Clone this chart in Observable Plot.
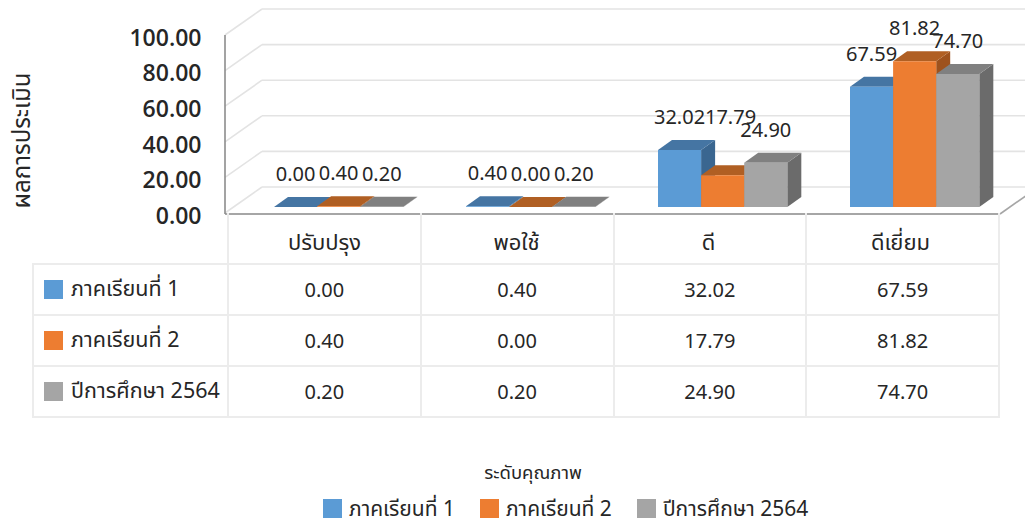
<!DOCTYPE html>
<html><head><meta charset="utf-8">
<script src="https://cdn.jsdelivr.net/npm/d3@7"></script>
<script src="https://cdn.jsdelivr.net/npm/@observablehq/plot@0.6"></script>
<style>
body{margin:0;background:#fff;font-family:"Noto Sans","Noto Sans Thai",Tahoma,sans-serif;color:#262626}
#wrap{position:relative;width:1025px;height:521px;overflow:hidden;background:#fff}
#wrap svg{position:absolute;left:0;top:0;overflow:visible}
.dt{position:absolute;left:32px;top:213px;border-collapse:collapse;table-layout:fixed;font-size:20px;color:#262626}
.dt td{border:2px solid #ececec;text-align:center;padding:0;white-space:nowrap}
.dt tr.head td{height:50px;border-top:none}
.dt tr.head td:first-child{border:none}
.dt tr.row td{height:49px}
.dt td.lab{text-align:left;padding-left:10px;font-size:21.5px}
.sw{display:inline-block;width:19px;height:19px;vertical-align:-3px;margin-right:8px}
.xt{position:absolute;left:383px;width:300px;top:459px;text-align:center;font-size:18.5px;line-height:26px;color:#262626}
.lg{position:absolute;left:323px;top:498px;display:flex;font-size:21px;line-height:21px;color:#262626}
.lg span.it{display:flex;align-items:center;margin-right:25px}
.lg .sw{margin-right:7px;vertical-align:0}
</style></head><body><div id="wrap"></div><script>
const categories = ["ปรับปรุง", "พอใช้", "ดี", "ดีเยี่ยม"];
const seriesNames = ["ภาคเรียนที่ 1", "ภาคเรียนที่ 2", "ปีการศึกษา 2564"];
const term1 = [0.00, 0.40, 32.02, 67.59];
const term2 = [0.40, 0.00, 17.79, 81.82];
const year2564 = [0.20, 0.20, 24.90, 74.70];
const yTicks = [0, 20, 40, 60, 80, 100];
const yTitle = "ผลการประเมิน";
const xTitle = "ระดับคุณภาพ";
const frontColors = ["#5B9BD5", "#ED7D31", "#A5A5A5"];
const topColors = ["#4575A3", "#B05F23", "#808080"];
const sideColors = ["#3A6690", "#9E521D", "#6B6B6B"];

const seriesValues = [term1, term2, year2564];
const fmt = v => v.toFixed(2);

function bars3d(index, scales, values, dims) {
  const {x, y} = scales;
  const bw = x.bandwidth();
  const barW = bw * 0.2245;
  const wall = [37, -26];      // projection of the full depth
  const lift = [8.5, -6];      // bars' front plane
  const dep = [14, -10];       // bar depth
  const labelW = 51;
  const ax = dims.marginLeft - 1;
  const xEnd = x(categories[categories.length - 1]) + bw + 4;
  const g = d3.create("svg:g");
  const ln = (x1, y1, x2, y2, c, w) => g.append("line").attr("x1", x1).attr("y1", y1).attr("x2", x2).attr("y2", y2).attr("stroke", c).attr("stroke-width", w);
  for (const t of yTicks) {
    ln(ax, y(t), ax + wall[0], y(t) + wall[1], "#e3e3e3", 1.6);
    ln(ax + wall[0], y(t) + wall[1], xEnd + wall[0], y(t) + wall[1], "#e3e3e3", 1.6);
  }
  ln(ax, y(0) + 1, xEnd, y(0) + 1, "#a6a6a6", 2);
  ln(xEnd, y(0) + 1, xEnd + wall[0], y(0) + 1 + wall[1], "#a6a6a6", 1.6);
  ln(ax, y(100), ax, y(0) + 1, "#8c8c8c", 1.6);
  const poly = (pts, c) => g.append("polygon").attr("points", pts.map(p => p.join(",")).join(" ")).attr("fill", c);
  const labels = [];
  categories.forEach((c, ci) => {
    const left = x(c) + 37.5 + lift[0];
    let prev = null;
    seriesValues.forEach((vals, si) => {
      const v = vals[ci];
      const x1 = left + si * barW, x2 = x1 + barW;
      const yb = y(0) + lift[1], yt = y(v) + lift[1];
      poly([[x2, yb], [x2 + dep[0], yb + dep[1]], [x2 + dep[0], yt + dep[1]], [x2, yt]], sideColors[si]);
      poly([[x1, yt], [x1 + dep[0], yt + dep[1]], [x2 + dep[0], yt + dep[1]], [x2, yt]], topColors[si]);
      poly([[x1, yb], [x2, yb], [x2, yt], [x1, yt]], frontColors[si]);
      let ly = yt - 33, lx = (x1 + x2) / 2;
      if (prev && prev.backTop < ly + 8) {
        ly = Math.min(ly, prev.ly);
        lx = Math.max(lx, prev.lx + labelW);
      }
      labels.push({x: lx, y: ly, t: fmt(v)});
      prev = {backTop: yt + dep[1], ly, lx};
    });
  });
  for (const l of labels) {
    g.append("text").attr("x", l.x).attr("y", l.y).attr("dy", "0.35em").attr("text-anchor", "middle")
      .attr("font-size", 20).attr("fill", "#262626").text(l.t);
  }
  return g.node();
}

const chart = Plot.plot({
  width: 1025, height: 265,
  marginLeft: 226, marginRight: 28, marginTop: 35, marginBottom: 52,
  x: {type: "band", domain: categories, padding: 0, label: null},
  y: {domain: [0, 100], label: null},
  style: {fontFamily: '"Noto Sans","Noto Sans Thai",Tahoma,sans-serif', background: "transparent", color: "#262626", overflow: "visible"},
  marks: [
    Plot.axisY(yTicks, {tickSize: 0, tickPadding: 25, tickFormat: fmt, fontSize: 23, fontWeight: 600, fontFamily: '"Open Sans","Noto Sans",sans-serif', dy: 3, label: null}),
    Plot.axisX({tickSize: 0, tickPadding: 21, fontSize: 22, label: null}),
    bars3d,
    Plot.text([yTitle], {frameAnchor: "left", textAnchor: "middle", rotate: -90, dx: -204, dy: 16, fontSize: 24, fill: "#262626"})
  ]
});

const wrap = d3.select("#wrap");
wrap.node().append(chart);

const tbl = wrap.append("table").attr("class", "dt");
const cg = tbl.append("colgroup");
cg.append("col").style("width", "195px");
categories.forEach(() => cg.append("col").style("width", "192.75px"));
const head = tbl.append("tr").attr("class", "head");
head.append("td");
categories.forEach(() => head.append("td"));
seriesNames.forEach((s, si) => {
  const tr = tbl.append("tr").attr("class", "row");
  const td = tr.append("td").attr("class", "lab");
  td.append("span").attr("class", "sw").style("background", frontColors[si]);
  td.append("span").text(s);
  seriesValues[si].forEach(v => tr.append("td").text(fmt(v)));
});

wrap.append("div").attr("class", "xt").text(xTitle);
const lg = wrap.append("div").attr("class", "lg");
seriesNames.forEach((s, si) => {
  const it = lg.append("span").attr("class", "it");
  it.append("span").attr("class", "sw").style("background", frontColors[si]);
  it.append("span").text(s);
});
</script></body></html>
